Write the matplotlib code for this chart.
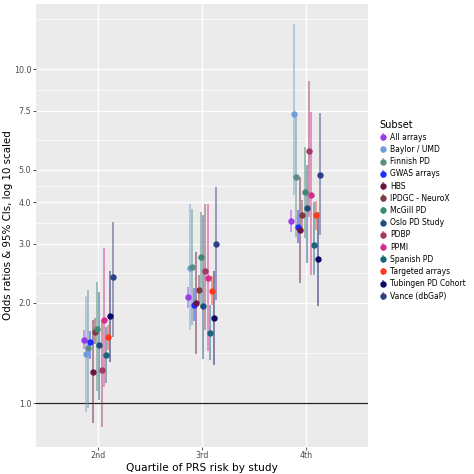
import numpy as np
import matplotlib.pyplot as plt
from matplotlib.ticker import FixedLocator, NullFormatter

# Subsets (legend order)
subsets = ["All arrays", "Baylor / UMD", "Finnish PD", "GWAS arrays", "HBS",
           "IPDGC - NeuroX", "McGill PD", "Oslo PD Study", "PDBP", "PPMI",
           "Spanish PD", "Targeted arrays", "Tubingen PD Cohort", "Vance (dbGaP)"]
colors = ["#9B3BE8", "#6F9FD8", "#5E8C86", "#1A2EFF", "#6E1442",
          "#7E3A3E", "#3E8A6E", "#1D4E7E", "#A33A66", "#D42F8C",
          "#17657A", "#FF3A1A", "#0A0A66", "#2F3F85"]

quartiles = ["2nd", "3rd", "4th"]

# Odds ratios and 95% CIs per quartile, one value per subset
or_q2 = [1.55, 1.40, 1.46, 1.52, 1.24, 1.63, 1.67, 1.49, 1.26, 1.78, 1.39, 1.58, 1.83, 2.39]
lo_q2 = [1.45, 0.94, 0.97, 1.36, 0.87, 1.50, 1.09, 1.02, 0.85, 1.12, 1.15, 1.44, 1.33, 1.58]
hi_q2 = [1.66, 2.09, 2.19, 1.64, 1.78, 1.80, 2.31, 2.16, 1.78, 2.91, 1.69, 1.72, 2.48, 3.50]

or_q3 = [2.08, 2.54, 2.55, 1.97, 1.99, 2.19, 2.74, 1.96, 2.48, 2.37, 1.62, 2.17, 1.80, 2.99]
lo_q3 = [1.93, 1.66, 1.72, 1.76, 1.40, 1.99, 1.93, 1.36, 1.66, 1.43, 1.35, 1.97, 1.30, 2.04]
hi_q3 = [2.23, 3.95, 3.81, 2.21, 2.84, 2.42, 3.75, 3.66, 3.95, 3.95, 1.97, 2.41, 2.48, 4.43]

or_q4 = [3.51, 7.33, 4.77, 3.37, 3.30, 3.66, 4.28, 3.84, 5.69, 4.20, 2.98, 3.66, 2.70, 4.83]
lo_q4 = [3.26, 4.20, 3.15, 3.01, 2.29, 3.34, 3.12, 2.63, 3.62, 2.42, 2.42, 3.30, 1.95, 3.19]
hi_q4 = [3.79, 13.67, 7.30, 3.79, 4.77, 4.06, 5.87, 5.17, 9.25, 7.46, 4.01, 4.04, 3.75, 7.38]

or_all = np.array([or_q2, or_q3, or_q4])
lo_all = np.array([lo_q2, lo_q3, lo_q4])
hi_all = np.array([hi_q2, hi_q3, hi_q4])

y_breaks = [1, 2, 3, 4, 5, 7.5, 10, 20]
y_labels = ["1.0", "2.0", "3.0", "4.0", "5.0", "7.5", "10.0", "20.0"]

fig = plt.figure(figsize=(4.74, 4.74), dpi=100)
ax = fig.add_axes([36 / 474, 27.3 / 474, 332 / 474, 442.4 / 474])
ax.set_facecolor("#EBEBEB")
for s in ax.spines.values():
    s.set_visible(False)

x0 = np.arange(len(quartiles)) + 1
dodge = 0.3
n = len(subsets)
handles = []
for i, (name, col) in enumerate(zip(subsets, colors)):
    xs = x0 + (i - (n - 1) / 2) * dodge / n
    o = or_all[:, i]
    eb = ax.errorbar(xs, o, yerr=[o - lo_all[:, i], hi_all[:, i] - o],
                     fmt="o", color=col, ms=4.6, mew=0,
                     ecolor=col + "99", elinewidth=1.1, capsize=0,
                     label=name, zorder=3)
    handles.append(eb)

ax.axhline(1.0, color="#222222", lw=0.9, zorder=2)

ax.set_yscale("log")
ax.set_ylim(0.741, 15.65)
ax.set_xlim(0.4, 3.6)
ax.yaxis.set_major_locator(FixedLocator(y_breaks))
ax.set_yticklabels(y_labels)
minor = [np.sqrt(a * b) for a, b in zip(y_breaks[:-1], y_breaks[1:])]
ax.yaxis.set_minor_locator(FixedLocator(minor))
ax.yaxis.set_minor_formatter(NullFormatter())
ax.set_xticks(x0)
ax.set_xticklabels(quartiles)

ax.grid(which="major", color="white", lw=1.0, zorder=0)
ax.grid(which="minor", axis="y", color="white", lw=0.5, zorder=0)
ax.set_axisbelow(True)
ax.tick_params(which="major", length=2.2, width=0.6, color="#333333",
               labelsize=5.8, labelcolor="#4D4D4D", pad=1.2)
ax.tick_params(which="minor", length=0)

ax.set_xlabel("Quartile of PRS risk by study", fontsize=7.6, labelpad=2)
ax.set_ylabel("Odds ratios & 95% CIs, log 10 scaled", fontsize=7.4)
ax.yaxis.set_label_coords(-23 / 332, 0.5)

leg = fig.legend(handles, subsets, title="Subset", loc="upper left",
                 bbox_to_anchor=(375 / 474, 1 - 115 / 474), frameon=False,
                 fontsize=5.5, title_fontsize=7.0, labelspacing=0.42,
                 handlelength=0.8, handletextpad=0.6, borderaxespad=0.2,
                 alignment="left")

fig.savefig("out.png", dpi=100)
